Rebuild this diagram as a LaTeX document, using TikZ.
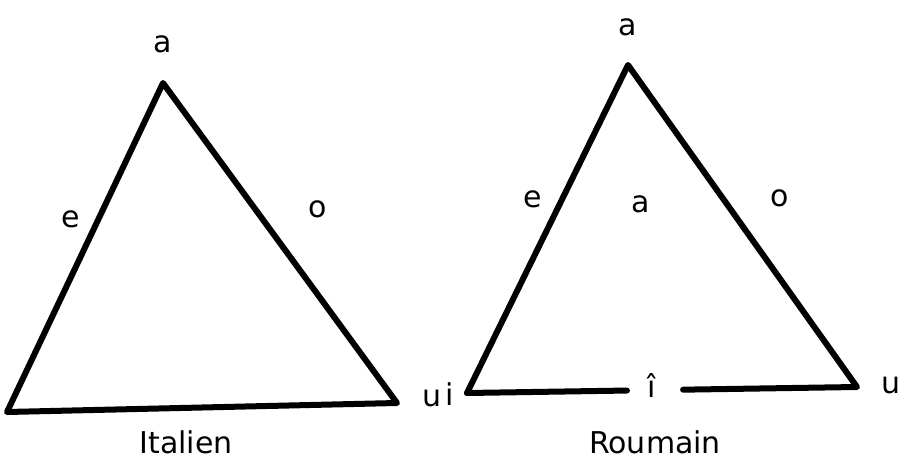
\documentclass[tikz,border=0pt]{standalone}
\usepackage{fontspec}
\setmainfont{DejaVu Sans}
\usetikzlibrary{calc}

\begin{document}
\begin{tikzpicture}[x=1pt,y=-1pt,
  tri/.style={line width=6pt,line join=round,line cap=round},
  lbl/.style={anchor=base,inner sep=0pt,font=\fontsize{30}{36}\selectfont}]
  \useasboundingbox (0,0) rectangle (903,463);
  % Italien
  \coordinate (itop) at (163,83);
  \coordinate (ibl) at (7,412);
  \coordinate (ibr) at (397,403);
  \draw[tri] (itop)--(ibl)--(ibr)--cycle;
  \node[lbl] (ia) at (163,52){a};
  \node[lbl] (ie) at (71,227){e};
  \node[lbl] (io) at (318,217){o};
  \node[lbl] (iu) at (432,406){u};
  \node[lbl] (itxt) at (186,453){Italien};
  % Roumain
  \coordinate (rtop) at (628,65);
  \coordinate (rbl) at (467,393);
  \coordinate (rbr) at (857,387);
  \draw[tri] (rbl)--(rtop)--(rbr)--($(rbl)!0.554!(rbr)$);
  \draw[tri] (rbl)--($(rbl)!0.41!(rbr)$);
  \node[lbl] (ra) at (628,35){a};
  \node[lbl] (re) at (533,207){e};
  \node[lbl] (rac) at (641,212){a};
  \node[lbl] (ro) at (780,206){o};
  \node[lbl] (ri) at (450,405){i};
  \node[lbl] (rih) at (652,397){î};
  \node[lbl] (ru) at (891,393){u};
  \node[lbl] (rtxt) at (655,453){Roumain};
\end{tikzpicture}
\end{document}
